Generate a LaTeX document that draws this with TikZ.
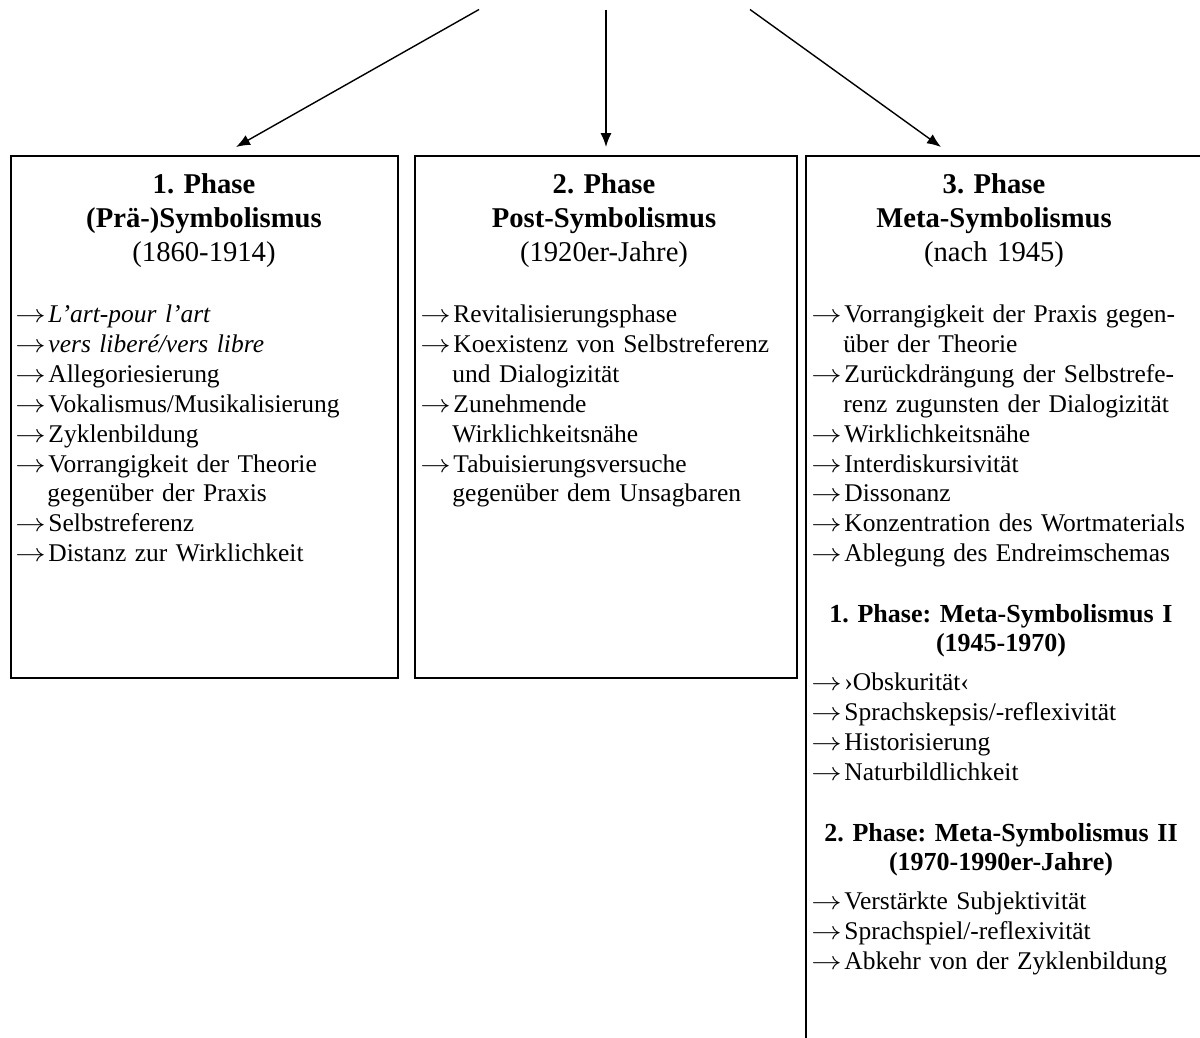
\documentclass[tikz,border=0pt]{standalone}
\usepackage{fontspec}
\setmainfont{Liberation Serif}
\usepackage{graphicx}
\usetikzlibrary{calc}
\usetikzlibrary{positioning}
\usetikzlibrary{arrows.meta}

\frenchspacing
\newcommand{\phasearr}{\makebox[1.3em][l]{\scalebox{1.2}[1]{$\rightarrow$}}}
\newcommand{\phaseind}{\hspace*{1.26em}}

\tikzset{
  phasebox/.style={draw,line width=1.1pt,anchor=north west,inner sep=0pt},
  heading/.style={anchor=base,align=center,text width=7.4cm,inner sep=0pt,font=\fontsize{16.3}{19.6}\selectfont},
  subheading/.style={anchor=base,align=center,text width=7.6cm,inner sep=0pt,font=\fontsize{14.8}{17}\selectfont\bfseries},
  itemlist/.style={anchor=base west,align=left,text width=7.6cm,inner sep=0pt,font=\fontsize{14.5}{17.07}\selectfont},
  phasearrow/.style={-{Latex[length=2.8mm,width=2.2mm]},line width=0.8pt}
}

\begin{document}
\begin{tikzpicture}

\useasboundingbox (0,0) rectangle (24,-20.74);
\clip (0,0) rectangle (24,-20.74);

\node[phasebox,minimum width=7.74cm,minimum height=10.44cm] (ph1) at (0.2,-3.1) {};
\node[phasebox,minimum width=7.64cm,minimum height=10.44cm] (ph2) at (8.28,-3.1) {};
\node[phasebox,minimum width=9cm,minimum height=18cm] (ph3) at (16.1,-3.1) {};

\coordinate (src1) at (9.58,-0.19);
\coordinate (src2) at (12.12,-0.19);
\coordinate (src3) at (15.0,-0.19);
\coordinate (tip1) at (4.72,-2.94);
\coordinate (tip2) at (12.12,-2.94);
\coordinate (tip3) at (18.82,-2.94);
\draw[phasearrow] (src1) -- (tip1);
\draw[phasearrow] (src2) -- (tip2);
\draw[phasearrow] (src3) -- (tip3);

\node[heading] (hd1) at (4.08,-3.86) {\textbf{1. Phase}\\\textbf{(Prä-)Symbolismus}\\(1860-1914)};
\node[heading] (hd2) at (12.08,-3.86) {\textbf{2. Phase}\\\textbf{Post-Symbolismus}\\(1920er-Jahre)};
\node[heading] (hd3) at (19.88,-3.86) {\textbf{3. Phase}\\\textbf{Meta-Symbolismus}\\(nach 1945)};

\node[itemlist] (ls1) at (0.3,-6.44) {%
\phasearr\textit{L’art-pour l’art}\\
\phasearr\textit{vers liberé/vers libre}\\
\phasearr Allegoriesierung\\
\phasearr Vokalismus/Musikalisierung\\
\phasearr Zyklenbildung\\
\phasearr Vorrangigkeit der Theorie\\
\phaseind gegenüber der Praxis\\
\phasearr Selbstreferenz\\
\phasearr Distanz zur Wirklichkeit};

\node[itemlist] (ls2) at (8.4,-6.44) {%
\phasearr Revitalisierungsphase\\
\phasearr Koexistenz von Selbstreferenz\\
\phaseind und Dialogizität\\
\phasearr Zunehmende\\
\phaseind Wirklichkeitsnähe\\
\phasearr Tabuisierungsversuche\\
\phaseind gegenüber dem Unsagbaren};

\node[itemlist] (ls3) at (16.22,-6.44) {%
\phasearr Vorrangigkeit der Praxis gegen-\\
\phaseind über der Theorie\\
\phasearr Zurückdrängung der Selbstrefe-\\
\phaseind renz zugunsten der Dialogizität\\
\phasearr Wirklichkeitsnähe\\
\phasearr Interdiskursivität\\
\phasearr Dissonanz\\
\phasearr Konzentration des Wortmaterials\\
\phasearr Ablegung des Endreimschemas};

\node[subheading] (sub1) at (20.02,-12.44) {1. Phase: Meta-Symbolismus I\\(1945-1970)};
\node[itemlist] (lsa) at (16.22,-13.8) {%
\phasearr ›Obskurität‹\\
\phasearr Sprachskepsis/-reflexivität\\
\phasearr Historisierung\\
\phasearr Naturbildlichkeit};

\node[subheading] (sub2) at (20.02,-16.82) {2. Phase: Meta-Symbolismus II\\(1970-1990er-Jahre)};
\node[itemlist] (lsb) at (16.22,-18.18) {%
\phasearr Verstärkte Subjektivität\\
\phasearr Sprachspiel/-reflexivität\\
\phasearr Abkehr von der Zyklenbildung};

\end{tikzpicture}
\end{document}
